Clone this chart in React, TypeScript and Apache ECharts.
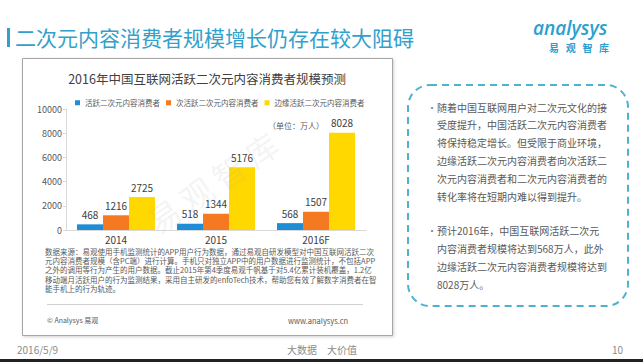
import React, { useEffect, useRef } from 'react';
import * as echarts from 'echarts';

const FONT = '"Noto Sans CJK SC", "Noto Sans", sans-serif';

const categories = ['2014', '2015', '2016F'];
const seriesNames = ['活跃二次元内容消费者', '次活跃二次元内容消费者', '边缘活跃二次元内容消费者'];
const activeValues = [468, 518, 568];
const secondaryValues = [1216, 1344, 1507];
const marginalValues = [2725, 5176, 8028];
const seriesColors = ['#1f8dd6', '#f47920', '#ffd800'];
const yMin = 0;
const yMax = 10000;
const yInterval = 2000;

const pageTitle = '二次元内容消费者规模增长仍存在较大阻碍';
const chartTitle = '2016年中国互联网活跃二次元内容消费者规模预测';
const unitText = '（单位：万人）';
const sourceLines = [
  '数据来源：易观使用手机监测统计的APP用户行为数据，通过易观自研发模型对中国互联网活跃二次',
  '元内容消费者规模（含PC端）进行计算。手机只对独立APP中的用户数据进行监测统计，不包括APP',
  '之外的调用等行为产生的用户数据。截止2015年第4季度易观千帆基于对5.4亿累计装机覆盖，1.2亿',
  '移动端月活跃用户的行为监测结果，采用自主研发的enfoTech技术，帮助您有效了解数字消费者在智',
  '能手机上的行为轨迹。',
];
const para1 = [
  '随着中国互联网用户对二次元文化的接',
  '受度提升，中国活跃二次元内容消费者',
  '将保持稳定增长。但受限于商业环境，',
  '边缘活跃二次元内容消费者向次活跃二',
  '次元内容消费者和二次元内容消费者的',
  '转化率将在短期内难以得到提升。',
];
const para2 = [
  '预计2016年，中国互联网活跃二次元',
  '内容消费者规模将达到568万人，此外',
  '边缘活跃二次元内容消费者规模将达到',
  '8028万人。',
];
const logoChars = ['易', '观', '智', '库'];

function txt(x: number, y: number, text: string, fontSize: number, fill: string, align = 'left', extra: any = {}) {
  return {
    type: 'text',
    x,
    y,
    z: extra.z ?? 5,
    rotation: extra.rotation ?? 0,
    style: {
      text,
      fill,
      fontSize,
      fontFamily: extra.fontFamily ?? FONT,
      fontWeight: extra.fontWeight ?? 'normal',
      fontStyle: extra.fontStyle ?? 'normal',
      textAlign: align,
      align,
      textVerticalAlign: 'middle',
      verticalAlign: 'middle',
      opacity: extra.opacity ?? 1,
    },
  };
}

export default function App() {
  const ref = useRef<HTMLDivElement>(null);

  useEffect(() => {
    if (!ref.current) return;
    const chart = echarts.init(ref.current, undefined, { renderer: 'svg' });

    const graphics: any[] = [];
    // chart frame
    graphics.push({
      type: 'rect',
      z: 0,
      shape: { x: 22.5, y: 58.5, width: 370, height: 277 },
      style: { fill: '#ffffff', stroke: '#a6a6a6', lineWidth: 1, shadowBlur: 3, shadowColor: 'rgba(0,0,0,0.18)', shadowOffsetX: 1, shadowOffsetY: 1 },
    });
    // page title
    graphics.push({ type: 'rect', z: 5, shape: { x: 7, y: 28, width: 3, height: 19 }, style: { fill: '#31a1cb' } });
    graphics.push(txt(15, 37, pageTitle, 21, '#31a1cb'));
    // logo
    graphics.push(txt(533, 28, 'analysys', 19, '#2a9fd0', 'left', { fontFamily: '"Open Sans", sans-serif', fontStyle: 'italic', fontWeight: 600 }));
    logoChars.forEach((c, i) => graphics.push(txt(554 + i * 16.7, 47, c, 10, '#2a9fd0', 'center', { fontWeight: 'bold' })));
    // chart title & unit
    graphics.push(txt(207, 78, chartTitle, 12.5, '#404040', 'center'));
    graphics.push(txt(268, 125, unitText, 8, '#595959', 'left'));
    // watermark
    graphics.push(txt(212, 182, '易 观 智 库', 32, 'rgba(170,170,170,0.14)', 'center', { rotation: 0.6, z: 10 }));
    // source note lines
    sourceLines.forEach((l, i) => graphics.push(txt(45, 251.5 + i * 9.2, l, 7.5, '#595959')));
    graphics.push({ type: 'line', z: 5, shape: { x1: 47, y1: 304.5, x2: 363, y2: 304.5 }, style: { stroke: '#d0d0d0', lineWidth: 1 } });
    graphics.push(txt(47, 320, '© Analysys 易观', 7, '#595959'));
    graphics.push(txt(288, 320, 'www.analysys.cn', 7.5, '#595959'));
    // right note box
    graphics.push({
      type: 'rect',
      z: 5,
      shape: { x: 408, y: 85, width: 220, height: 221, r: 22 },
      style: { fill: 'none', stroke: '#4db2cf', lineWidth: 2, lineDash: [7, 5] },
    });
    graphics.push(txt(427, 107, '•', 10, '#7f7f7f'));
    para1.forEach((l, i) => graphics.push(txt(437, 107 + i * 17.8, l, 10, '#595959')));
    graphics.push(txt(427, 230, '•', 10, '#7f7f7f'));
    para2.forEach((l, i) => graphics.push(txt(437, 230 + i * 18, l, 10, '#595959')));
    // footer
    graphics.push(txt(17, 349, '2016/5/9', 10, '#8c8c8c'));
    graphics.push(txt(287, 349, '大数据　大价值', 10, '#8c8c8c'));
    graphics.push(txt(612, 349, '10', 10, '#8c8c8c'));
    graphics.push({ type: 'rect', z: 5, shape: { x: 0, y: 359, width: 643, height: 3 }, style: { fill: '#222222' } });

    const values = [activeValues, secondaryValues, marginalValues];

    chart.setOption({
      animation: false,
      backgroundColor: '#ffffff',
      textStyle: { fontFamily: FONT },
      graphic: { elements: graphics },
      legend: {
        left: 70,
        top: 94,
        itemWidth: 5,
        itemHeight: 5,
        itemGap: 6,
        icon: 'rect',
        textStyle: { fontSize: 7.5, color: '#595959', fontFamily: FONT },
        data: seriesNames,
      },
      grid: { left: 66, right: 277, top: 109, bottom: 132 },
      xAxis: {
        type: 'category',
        data: categories,
        axisTick: { show: false },
        axisLine: { lineStyle: { color: '#d9d9d9' } },
        axisLabel: { fontSize: 10, color: '#404040', margin: 4, fontFamily: FONT },
      },
      yAxis: {
        type: 'value',
        min: yMin,
        max: yMax,
        interval: yInterval,
        splitLine: { show: false },
        axisLine: { show: true, lineStyle: { color: '#d9d9d9' } },
        axisTick: { show: true, length: 3, lineStyle: { color: '#d9d9d9' } },
        axisLabel: { fontSize: 9, color: '#595959', margin: 4, fontFamily: FONT, formatter: (v: number) => String(v) },
      },
      series: seriesNames.map((name, i) => ({
        name,
        type: 'bar',
        data: values[i],
        barWidth: 26,
        barGap: '0%',
        itemStyle: { color: seriesColors[i] },
        label: { show: true, position: 'top', distance: 5, fontSize: 10, color: '#404040', fontFamily: FONT },
      })),
    });

    return () => chart.dispose();
  }, []);

  return <div ref={ref} style={{ position: 'fixed', left: 0, top: 0, width: 643, height: 362 }} />;
}
